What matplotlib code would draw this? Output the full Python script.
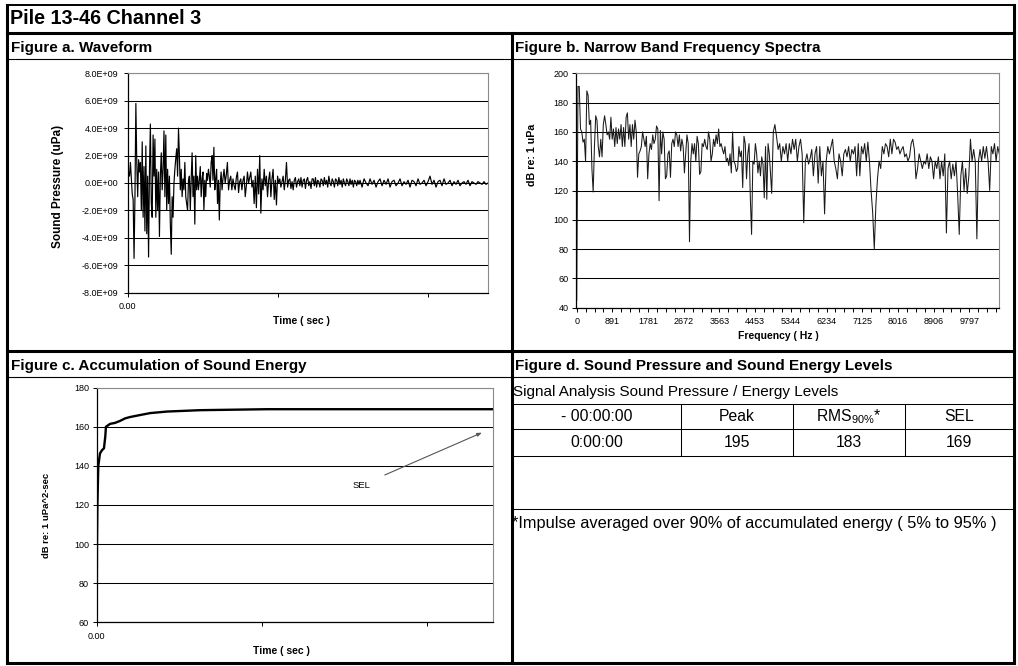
import numpy as np
import matplotlib
matplotlib.use("Agg")
import matplotlib.pyplot as plt
from matplotlib.lines import Line2D
import matplotlib.font_manager as fm
from matplotlib.ticker import FuncFormatter

# ---------------- data ----------------
title = "Pile 13-46 Channel 3"
panel_titles = ["Figure a. Waveform",
                "Figure b. Narrow Band Frequency Spectra",
                "Figure c. Accumulation of Sound Energy",
                "Figure d. Sound Pressure and Sound Energy Levels"]

# waveform (units of 1e9 uPa), three consecutive segments of samples
wave_seg1 = [0.2, 0.8, 0.5, 1.5, 0.3, -0.8, -1.2, -5.5, -1.0, 5.8, 1.5, -1.0, 1.7, 0.8, 1.5, -2.0,
             3.0, -2.5, 1.2, -3.5, 2.7, -3.7, 0.5, -5.4, 1.0, 4.3, -1.5, -2.5, 3.5, 0.5, 3.2, -2.5,
             1.0, -2.0, 0.8, -3.9, 0.5, 2.2, -0.5, 1.0, 3.8, -1.0, 3.5, -2.0, 1.0, -1.5, 0.5, -3.0,
             -5.2, -1.0, -2.5, 0.0, 1.0, 1.8, 2.5, 0.5, 4.0, 2.0, -0.5, 1.0, -1.0, 0.3, -0.5, 1.5,
             -1.0, -1.5, -2.0, 0.2, 0.5, -2.0, 0.3, 2.2, -1.0, 0.5, -3.0, 2.0, -0.5, 0.5, -0.5, 0.2,
             1.2, -1.0, 0.3, 0.8, -2.0, 0.2, -1.0, 0.7, 0.2, 1.0, 0.5, -0.3, 1.5, 2.0, 0.2, 2.6,
             -0.5, 0.3, 1.0, -1.5, 0.2, -2.7, 0.0, 0.8, -0.5]
wave_seg2 = [0.3, 1.0, 0.0, 0.6, 1.5, -0.5, 0.2, 0.5, -0.5, 0.3, -0.2, -0.5, 0.4, 0.8, -0.7,
             0.1, 0.3, -0.5, 0.2, 0.5, -1.0, -0.2, 0.8, 0.0, 0.4, 0.8, -0.3, 0.2, -1.5, 0.5,
             -1.8, 1.0, -0.8, 2.0, -2.2, 0.3, -0.5, 1.0, -0.2, 0.5, -1.0, 0.2, 0.8, -1.0, 0.3,
             1.0, -1.2, 0.2, -1.6, 0.5, 0.0, 0.3, -0.3, 0.1, 0.5, -0.5, 0.2, 1.5, -0.3, 0.2,
             0.3, -0.4, 0.1, -0.5, 0.2, 0.4, -0.3, 0.1, 0.3, -0.2, 0.4, -0.3, 0.2, 0.3, -0.4,
             0.2, 0.4, -0.2, 0.1, -0.4, 0.3, 0.3, -0.2, 0.4, -0.3, 0.2, 0.1, -0.3, 0.3, 0.2,
             -0.2, 0.4, -0.1, 0.2, -0.3, 0.5, 0.0, -0.2, 0.3, 0.1, -0.3, 0.3, 0.2, -0.2, 0.4,
             -0.1, 0.2, -0.3, 0.3, 0.0, -0.2, 0.3, 0.1, -0.2, 0.3, -0.1, 0.2, -0.3, 0.2, 0.1,
             -0.2, 0.2, -0.1]
wave_seg3 = [0.2, -0.3, 0.3, 0.0, -0.2, 0.3, -0.1, 0.2, -0.3, 0.1, 0.3, -0.2, 0.2, -0.1, 0.3,
             -0.3, 0.1, 0.2, -0.2, 0.0, 0.3, -0.2, 0.1, -0.1, 0.2, -0.3, 0.2, 0.1, -0.2, 0.3,
             -0.1, 0.0, 0.2, -0.2, 0.1, 0.5, -0.1, 0.2, -0.3, 0.1, 0.2, -0.2, 0.3, -0.1, 0.0,
             0.2, -0.2, 0.1, -0.1, 0.2, -0.2, 0.0, 0.1, -0.1, 0.2, -0.2, 0.1, 0.0, -0.1, 0.1,
             0.0, -0.1, 0.1, -0.1, 0.0]
wave_seg_bounds = [0.0, 0.0635, 0.1549, 0.2402]   # seconds

# narrow band spectrum (dB re 1 uPa), two consecutive frequency segments
spec_seg1 = [45, 191, 191, 162, 160, 153, 155, 140, 188, 185, 165, 168, 135, 119, 150, 171, 168, 150,
             143, 155, 143, 165, 171, 165, 158, 160, 155, 170, 155, 162, 150, 163, 152, 162, 155, 165,
             150, 163, 150, 170, 173, 155, 165, 150, 165, 155, 168, 160, 129, 145, 147, 150, 160, 155,
             150, 157, 128, 145, 152, 148, 158, 152, 155, 164, 162, 113, 161, 145, 160, 155, 128, 130,
             145, 147, 129, 152, 155, 150, 160, 158, 150, 158, 147, 155, 150, 132, 145, 158, 152, 85,
             140, 152, 145, 152, 140, 157, 152, 131, 133, 152, 150, 155, 150, 148, 160, 155, 140, 145,
             155, 150, 158, 152, 162, 150, 152, 148, 145, 150, 140, 142, 137, 145, 132, 160, 140, 138,
             133, 135, 150, 143, 147, 122, 157, 152, 128, 145, 152, 115, 90, 140, 138, 152, 145, 132,
             140, 130, 143, 138, 115, 150, 114, 152, 145]
spec_seg2 = [118, 160, 165, 157, 148, 152, 140, 150, 145, 152, 140, 152, 145, 155, 148, 155, 140, 150,
             155, 145, 98, 140, 145, 138, 142, 148, 130, 145, 150, 125, 150, 130, 140, 104, 140, 150,
             145, 150, 155, 140, 135, 128, 145, 140, 130, 145, 148, 143, 150, 140, 148, 145, 150, 130,
             152, 130, 150, 145, 152, 140, 153, 140, 120, 105, 80, 110, 128, 140, 135, 150, 145, 152,
             150, 143, 155, 145, 155, 153, 148, 150, 145, 148, 150, 143, 145, 140, 143, 152, 155, 148,
             128, 135, 145, 140, 135, 140, 138, 145, 135, 143, 140, 128, 140, 135, 143, 128, 140, 130,
             145, 91, 135, 140, 128, 138, 130, 140, 118, 90, 130, 140, 120, 135, 118, 130, 155, 140,
             148, 140, 87, 140, 148, 140, 150, 142, 150, 140, 120, 150, 145, 152, 140, 150, 145]
spec_seg_bounds = [(0, 4807), (4866, 10546)]     # Hz
spec_tick_labels = ["0", "891", "1781", "2672", "3563", "4453", "5344", "6234",
                    "7125", "8016", "8906", "9797"]

# accumulated sound energy
accum_t = [0, 0.00018, 0.00042, 0.00097, 0.0020, 0.0032, 0.0044, 0.0052, 0.0056, 0.0081,
           0.0111, 0.0141, 0.0172, 0.0202, 0.0262, 0.0323, 0.0426, 0.0626, 0.1032, 0.2404]
accum_db = [60, 100, 120, 140, 146.4, 148, 149, 155, 160, 161.5, 162.0, 163.0, 164.3, 165.0,
            166, 167.0, 167.8, 168.5, 169, 169]

# table
table_caption = "Signal Analysis Sound Pressure / Energy Levels"
table_headers = ["- 00:00:00", "Peak", r"RMS$_{\mathregular{90\%}}$*", "SEL"]
table_values = ["0:00:00", "195", "183", "169"]
footnote = "*Impulse averaged over 90% of accumulated energy ( 5% to 95% )"

# ---------------- figure ----------------
W, H = 1018, 666
FONT = "Liberation Sans"
names = {f.name for f in fm.fontManager.ttflist}
NARROW = "Liberation Sans Narrow" if "Liberation Sans Narrow" in names else FONT
nscale = 1.0 if NARROW != FONT else 0.85
plt.rcParams['font.family'] = [FONT, 'DejaVu Sans']
plt.rcParams['mathtext.fontset'] = 'custom'
plt.rcParams['mathtext.rm'] = FONT

fig = plt.figure(figsize=(W / 100, H / 100), dpi=100)
fig.patch.set_facecolor('white')


def fx(x):
    return x / W


def fy(y):
    return 1 - y / H


def line(x0, y0, x1, y1, lw, color='black'):
    fig.add_artist(Line2D([fx(x0), fx(x1)], [fy(y0), fy(y1)], transform=fig.transFigure,
                          color=color, lw=lw, solid_capstyle='projecting'))


def rect(x0, y0, x1, y1):
    return [fx(x0), fy(y1), (x1 - x0) / W, (y1 - y0) / H]


def text(x, y, s, **kw):
    fig.text(fx(x), fy(y), s, **kw)


# frame
L, R, T, B = 7, 1014, 5, 663
line(L, T, R, T, 1.4)
line(L, T, L, B, 2.2)
line(R, T, R, B, 2.2)
line(L, B, R, B, 2.2)
line(L, 33, R, 33, 2.2)
line(511.7, 33, 511.7, B, 2.2)
line(L, 350.7, R, 350.7, 2.2)
line(L, 59, R, 59, 0.8)
line(L, 376.7, R, 376.7, 0.8)

text(10, 19, title, fontsize=14.2, fontweight='bold', va='center', ha='left')
text(11, 48, panel_titles[0], fontsize=11, fontweight='bold', va='center')
text(515, 48, panel_titles[1], fontsize=11, fontweight='bold', va='center')
text(11, 366, panel_titles[2], fontsize=11, fontweight='bold', va='center')
text(515, 366, panel_titles[3], fontsize=11, fontweight='bold', va='center')


def style_axes(ax):
    ax.set_facecolor('white')
    for s in ('top', 'right'):
        ax.spines[s].set_color('#8a8a8a')
        ax.spines[s].set_linewidth(0.8)
    for s in ('left', 'bottom'):
        ax.spines[s].set_color('black')
        ax.spines[s].set_linewidth(0.9)
    ax.tick_params(direction='out', length=3, width=0.7, labelsize=6.5, colors='black')
    ax.grid(axis='y', color='black', lw=0.75)
    ax.set_axisbelow(True)


# ---- a. waveform ----
ax_a = fig.add_axes(rect(127.7, 73.3, 488.3, 292.7))
style_axes(ax_a)
t_all, w_all = [], []
for i, seg in enumerate([wave_seg1, wave_seg2, wave_seg3]):
    n = len(seg)
    t0, t1 = wave_seg_bounds[i], wave_seg_bounds[i + 1]
    t = np.linspace(t0, t1, n, endpoint=(i == 2))
    t_all.append(t)
    w_all.append(np.array(seg) * 1e9)
ax_a.plot(np.concatenate(t_all), np.concatenate(w_all), color='black', lw=0.85)
ax_a.set_xlim(0, 0.2404)
ax_a.set_ylim(-8e9, 8e9)
ax_a.set_yticks(np.arange(-8, 9, 2) * 1e9)
ax_a.yaxis.set_major_formatter(FuncFormatter(lambda v, p: f"{v:.1E}"))
ax_a.set_xticks([0, 0.1, 0.2])
ax_a.set_xticklabels(["0.00", "", ""])
ax_a.tick_params(axis='y', pad=3.5)
ax_a.tick_params(axis='x', pad=4)
text(301.7, 320.7, "Time ( sec )", fontsize=7.5, fontweight='bold', ha='center', va='center')
text(58, 186, "Sound Pressure (uPa)", family=NARROW, fontsize=10 * nscale, fontweight='bold',
     rotation=90, ha='center', va='center')

# ---- b. spectrum ----
ax_b = fig.add_axes(rect(575.7, 73.3, 999.3, 307.7))
style_axes(ax_b)
f_all, s_all = [], []
for (f0, f1), seg in zip(spec_seg_bounds, [spec_seg1, spec_seg2]):
    f_all.append(np.linspace(f0, f1, len(seg)))
    s_all.append(np.array(seg, dtype=float))
ax_b.plot(np.concatenate(f_all), np.concatenate(s_all), color='#1a1a1a', lw=0.75)
ax_b.set_xlim(-25, 10546)
ax_b.set_ylim(40, 200)
ax_b.set_yticks(np.arange(40, 201, 20))
step = 890.6 / 4
ticks = np.arange(0, 10546, step)
ax_b.set_xticks(ticks)
labels = []
for k in range(len(ticks)):
    labels.append(spec_tick_labels[k // 4] if k % 4 == 0 and k // 4 < len(spec_tick_labels) else "")
ax_b.set_xticklabels(labels)
ax_b.tick_params(axis='y', pad=2)
ax_b.tick_params(axis='x', pad=4)
text(778, 336, "Frequency ( Hz )", fontsize=7.5, fontweight='bold', ha='center', va='center')
text(531.7, 155, "dB re: 1 uPa", family=NARROW, fontsize=9 * nscale, fontweight='bold',
     rotation=90, ha='center', va='center')

# ---- c. accumulation ----
ax_c = fig.add_axes(rect(96.7, 387.7, 493.3, 622.3))
style_axes(ax_c)
ax_c.plot(accum_t, accum_db, color='black', lw=1.7, solid_joinstyle='round')
ax_c.set_xlim(0, 0.2404)
ax_c.set_ylim(60, 180)
ax_c.set_yticks(np.arange(60, 181, 20))
ax_c.set_xticks([0, 0.1, 0.2])
ax_c.set_xticklabels(["0.00", "", ""])
ax_c.tick_params(axis='y', pad=2.5)
ax_c.tick_params(axis='x', pad=4)
ax_c.annotate("SEL", xy=(0.2335, 157), xytext=(0.1606, 130.2), fontsize=6.8,
              ha='center', va='center',
              arrowprops=dict(arrowstyle='-|>,head_length=0.4,head_width=0.15', color='#555555',
                              lw=0.8, shrinkA=9, shrinkB=0))
text(281.7, 650.7, "Time ( sec )", fontsize=7.5, fontweight='bold', ha='center', va='center')
text(46.7, 515, "dB re: 1 uPa^2-sec", family=NARROW, fontsize=8 * nscale, fontweight='bold',
     rotation=90, ha='center', va='center')

# ---- d. table ----
text(513, 392, table_caption, fontsize=11, va='center', ha='left')
for y in (404, 428.7, 455.7, 509):
    line(512, y, R, y, 0.75)
col_edges = [512, 680.7, 793.3, 904.7, R]
for x in col_edges[1:-1]:
    line(x, 404, x, 455.7, 0.75)
for i in range(4):
    cx = (col_edges[i] + col_edges[i + 1]) / 2
    text(cx, 416.5, table_headers[i], fontsize=11.3, ha='center', va='center')
    text(cx, 442.5, table_values[i], fontsize=11.3, ha='center', va='center')
text(512.5, 523.5, footnote, fontsize=11.8, va='center', ha='left')

fig.savefig("out.png", dpi=100, facecolor='white')
